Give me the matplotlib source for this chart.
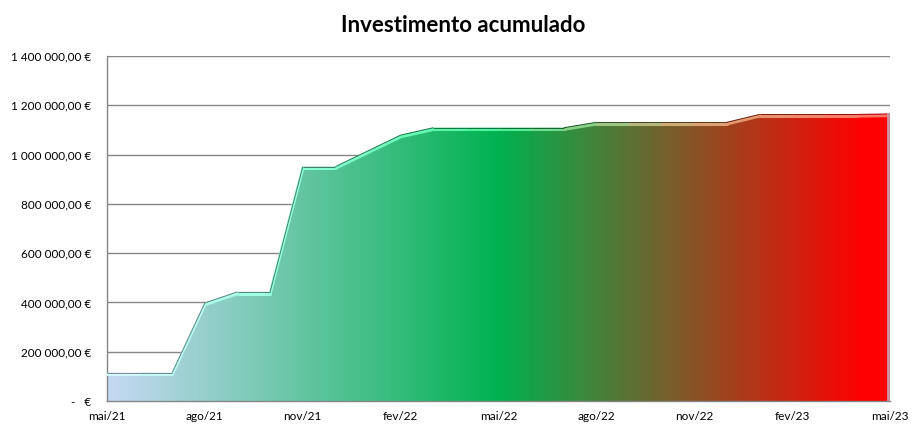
import numpy as np
import matplotlib
matplotlib.use("Agg")
import matplotlib.pyplot as plt
from matplotlib.colors import LinearSegmentedColormap
from matplotlib.collections import LineCollection
from matplotlib.ticker import FuncFormatter

plt.rcParams['font.family'] = ['Lato', 'DejaVu Sans']

# monthly points, mai/21 .. mai/23
months = ['mai/21', 'jun/21', 'jul/21', 'ago/21', 'set/21', 'out/21', 'nov/21', 'dez/21',
          'jan/22', 'fev/22', 'mar/22', 'abr/22', 'mai/22', 'jun/22', 'jul/22', 'ago/22',
          'set/22', 'out/22', 'nov/22', 'dez/22', 'jan/23', 'fev/23', 'mar/23', 'abr/23', 'mai/23']
invest = [115000, 115000, 115000, 398000, 443000, 443000, 951000, 951000,
          1015000, 1079000, 1109000, 1109000, 1109000, 1109000, 1109000, 1131000,
          1131000, 1131000, 1131000, 1131000, 1163000, 1163000, 1163000, 1163000, 1165000]
y_ticks = [0, 200000, 400000, 600000, 800000, 1000000, 1200000, 1400000]

def euro(v, pos=None):
    if v == 0:
        return '-   €'
    s = f'{v:,.2f}'.replace(',', ' ').replace('.', ',')
    return s + ' €'

x = np.arange(len(months))
y = np.array(invest)

grad = LinearSegmentedColormap.from_list('inv', [
    (0.0, (198/255, 217/255, 243/255)),
    (0.5, (0/255, 178/255, 80/255)),
    (0.97, (255/255, 0, 0)),
    (1.0, (255/255, 0, 0)),
])
# brighter version for the bevel on the top edge
hilite = LinearSegmentedColormap.from_list('hi', [
    (0.0, (0.85, 0.97, 1.0)),
    (0.25, (0.55, 1.0, 0.85)),
    (0.5, (0.30, 0.95, 0.60)),
    (0.75, (0.85, 0.65, 0.45)),
    (1.0, (1.0, 0.45, 0.40)),
])

fig = plt.figure(figsize=(9.23, 4.38), dpi=100)
ax = fig.add_axes([107/923, 1 - 401/438, (890 - 107)/923, (401 - 56)/438])

# gradient clipped to the area
poly = ax.fill_between(x, 0, y, facecolor='none', edgecolor='none')
img = ax.imshow(np.linspace(0, 1, 400).reshape(1, -1), cmap=grad, aspect='auto',
                extent=[x[0], x[-1], 0, 1400000], origin='lower', zorder=2)
img.set_clip_path(poly.get_paths()[0], transform=ax.transData)

# bevel highlight along the top edge
pts = np.column_stack([x, y - 7000]).reshape(-1, 1, 2)
segs = np.concatenate([pts[:-1], pts[1:]], axis=1)
frac = (x[:-1] + 0.5) / x[-1]
ax.add_collection(LineCollection(segs, colors=hilite(frac), linewidths=2.2, zorder=3,
                                 capstyle='round', joinstyle='round'))
pts2 = np.column_stack([x, y]).reshape(-1, 1, 2)
segs2 = np.concatenate([pts2[:-1], pts2[1:]], axis=1)
dark = grad(frac)
dark[:, :3] = dark[:, :3] * 0.65
ax.add_collection(LineCollection(segs2, colors=dark, linewidths=0.7, zorder=4))
ax.plot([x[-1] - 0.05, x[-1] - 0.05], [0, y[-1]], color='#c898a8', lw=2, zorder=4)

ax.set_xlim(x[0], x[-1])
ax.set_ylim(0, 1400000)
ax.set_yticks(y_ticks)
ax.yaxis.set_major_formatter(FuncFormatter(euro))
ax.set_xticks(x[::3])
ax.set_xticklabels(months[::3])
ax.grid(axis='y', color='#868686', linewidth=1.0, zorder=1)
ax.set_axisbelow(True)
ax.tick_params(axis='both', length=0, labelsize=8.5, colors='black')
ax.tick_params(axis='y', pad=11)
ax.tick_params(axis='x', pad=7)
for s in ['top', 'right']:
    ax.spines[s].set_visible(False)
for s in ['left', 'bottom']:
    ax.spines[s].set_color('#868686')
    ax.spines[s].set_linewidth(1.0)

fig.text(463/923, 1 - 25/438, 'Investimento acumulado', ha='center', va='center',
         fontsize=16, fontweight='bold')

fig.savefig('out.png', dpi=100)
